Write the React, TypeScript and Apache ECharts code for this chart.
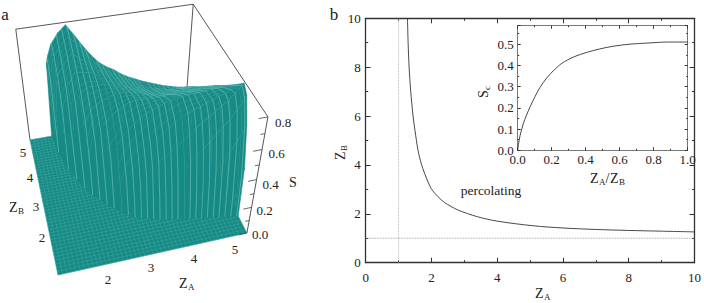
import React, { useEffect, useRef } from "react";
import * as echarts from "echarts";

// Panel b: percolation threshold
const thresholdZA = [1.27, 1.29, 1.32, 1.37, 1.44, 1.5, 1.59, 1.69, 1.79, 1.99, 2.2, 2.4, 2.8, 3.4, 4, 5.1, 6, 7, 8, 9, 10];
const thresholdZB = [10, 9, 8, 7, 6, 5.4, 4.61, 4.05, 3.66, 3.04, 2.7, 2.46, 2.16, 1.88, 1.7, 1.51, 1.42, 1.36, 1.32, 1.29, 1.26];
// Inset
const ratio = [0, 0.005, 0.014, 0.033, 0.05, 0.073, 0.1, 0.13, 0.17, 0.21, 0.26, 0.33, 0.41, 0.48, 0.56, 0.66, 0.76, 0.88, 1];
const sc = [0, 0.03, 0.07, 0.125, 0.162, 0.205, 0.25, 0.295, 0.34, 0.375, 0.41, 0.44, 0.462, 0.477, 0.49, 0.5, 0.505, 0.51, 0.51];

// Panel a: surface S(ZA, ZB)
const zaNodes = [1.6, 1.65, 1.7, 1.8, 2.0, 2.2, 2.4, 2.6, 2.8, 3.0, 3.2, 3.4, 3.6, 3.8, 4.0, 4.2, 4.4, 4.6, 4.8, 5.0, 5.2, 5.4, 5.5];
const zbBase = [5.5, 5.0, 4.7, 4.2, 3.6, 3.15, 2.85, 2.6, 2.38, 2.18, 2.08, 2.0, 1.93, 1.86, 1.82, 1.78, 1.74, 1.71, 1.67, 1.63, 1.59, 1.55, 1.53];
const zbNodes = [1.6, 1.8, 2.0, 2.2, 2.4, 2.8, 3.2, 3.6, 4.0, 4.4, 4.8, 5.2, 5.5];
const _ = null;
const surfaceS = [
  [_, _, _, _, _, _, _, _, _, _, _, _, _],
  [_, _, _, _, _, _, _, _, _, _, _, 0.4, 0.55],
  [_, _, _, _, _, _, _, _, _, _, 0.3, 0.52, 0.6],
  [_, _, _, _, _, _, _, _, _, 0.38, 0.56, 0.63, 0.67],
  [_, _, _, _, _, _, _, _, 0.42, 0.56, 0.64, 0.7, 0.74],
  [_, _, _, _, _, _, 0.1, 0.42, 0.56, 0.64, 0.7, 0.75, 0.784],
  [_, _, _, _, _, _, 0.4, 0.52, 0.6, 0.63, 0.66, 0.7, 0.71],
  [_, _, _, _, _, 0.28, 0.48, 0.56, 0.6, 0.62, 0.62, 0.63, 0.63],
  [_, _, _, _, 0.08, 0.4, 0.54, 0.58, 0.6, 0.58, 0.57, 0.56, 0.56],
  [_, _, _, 0.05, 0.26, 0.48, 0.57, 0.6, 0.58, 0.55, 0.53, 0.51, 0.5],
  [_, _, _, 0.2, 0.36, 0.53, 0.6, 0.6, 0.56, 0.53, 0.5, 0.47, 0.46],
  [_, _, _, 0.3, 0.42, 0.57, 0.61, 0.58, 0.54, 0.5, 0.47, 0.44, 0.43],
  [_, _, 0.12, 0.36, 0.47, 0.6, 0.6, 0.57, 0.52, 0.47, 0.44, 0.41, 0.39],
  [_, _, 0.2, 0.4, 0.52, 0.62, 0.6, 0.55, 0.5, 0.45, 0.41, 0.38, 0.36],
  [_, _, 0.26, 0.44, 0.56, 0.64, 0.6, 0.54, 0.48, 0.43, 0.38, 0.35, 0.335],
  [_, 0.05, 0.32, 0.48, 0.6, 0.65, 0.6, 0.53, 0.47, 0.41, 0.36, 0.32, 0.31],
  [_, 0.12, 0.38, 0.54, 0.63, 0.66, 0.6, 0.53, 0.46, 0.4, 0.35, 0.3, 0.29],
  [_, 0.2, 0.44, 0.58, 0.65, 0.66, 0.6, 0.53, 0.46, 0.39, 0.34, 0.29, 0.27],
  [_, 0.28, 0.5, 0.62, 0.67, 0.66, 0.6, 0.53, 0.46, 0.39, 0.33, 0.27, 0.25],
  [_, 0.36, 0.56, 0.66, 0.69, 0.67, 0.6, 0.53, 0.46, 0.39, 0.33, 0.27, 0.235],
  [0.03, 0.44, 0.62, 0.7, 0.71, 0.67, 0.6, 0.53, 0.46, 0.39, 0.33, 0.26, 0.22],
  [0.18, 0.54, 0.7, 0.76, 0.73, 0.67, 0.6, 0.53, 0.46, 0.39, 0.33, 0.26, 0.21],
  [0.35, 0.6, 0.75, 0.79, 0.75, 0.677, 0.606, 0.539, 0.468, 0.397, 0.326, 0.258, 0.207],
];
const zMin = 1;
const zMax = 5.5;
const sMax = 0.8;
const sTicks = [0, 0.1, 0.2, 0.3, 0.4, 0.5, 0.6, 0.7, 0.8];

const TEAL = "#178a85";
const LIGHT = "#52b3ac";
const FAINT = "rgba(90,185,178,0.4)";
const FLOORLINE = "rgba(90,185,178,0.55)";
const FRAME = "#444";
const INK = "#222";
const SERIF = "Liberation Serif";

// Perspective projection of the box (three vanishing points)
type P3 = [number, number, number];
function project([za, zb, s]: P3): [number, number] {
  const u = (za - zMin) / (zMax - zMin);
  const v = (zb - zMin) / (zMax - zMin);
  const w = s / sMax;
  const A = 0.0653 * u;
  const B = 0.2435 * v;
  const C = -0.159 * w;
  const d = 1 + A + B + C;
  return [
    (58 + A * 3140 + B * -85 + C * 127) / d,
    (275 + A * -410 + B * -415 + C * 895) / d,
  ];
}

type Shape = { pts: P3[]; kind: "facet" | "floor" | "mesh" | "frame" | "tick" | "rib" | "arc" };

const mix = (p: P3, q: P3, t: number): P3 => [
  p[0] + (q[0] - p[0]) * t,
  p[1] + (q[1] - p[1]) * t,
  p[2] + (q[2] - p[2]) * t,
];

function buildSurface(): Shape[] {
  const out: Shape[] = [];
  const nodeAt = (i: number, j: number): P3 => [zaNodes[i], zbNodes[j], surfaceS[i][j] as number];
  const baseAt = (i: number): P3 => [zaNodes[i], zbBase[i], 0];
  const first = (i: number) => {
    const k = surfaceS[i].findIndex((x) => x !== null);
    return k < 0 ? zbNodes.length : k;
  };
  const ribStep = 0.14;
  for (let i = zaNodes.length - 2; i >= 0; i--) {
    const f0 = first(i);
    const f1 = first(i + 1);
    const jc = Math.min(Math.max(f0, f1), zbNodes.length - 1);
    const a0 = zaNodes[i];
    const a1 = zaNodes[i + 1];
    for (let j = zbNodes.length - 2; j >= jc; j--) {
      const p00 = nodeAt(i, j);
      const p10 = nodeAt(i + 1, j);
      const p11 = nodeAt(i + 1, j + 1);
      const p01 = nodeAt(i, j + 1);
      out.push({ kind: "facet", pts: [p00, p10, p11, p01] });
      const n = Math.max(1, Math.round((zbNodes[j + 1] - zbNodes[j]) / 0.14));
      for (let k = 1; k <= n; k++) {
        const t = k / n;
        out.push({ kind: "arc", pts: [mix(p00, p01, t), mix(p10, p11, t)] });
      }
    }
    const skirt: P3[] = [baseAt(i)];
    for (let j = f0; j <= jc; j++) skirt.push(nodeAt(i, j));
    for (let j = jc; j >= f1; j--) skirt.push(nodeAt(i + 1, j));
    skirt.push(baseAt(i + 1));
    out.push({ kind: "facet", pts: skirt });
    if (jc < zbNodes.length && f0 < zbNodes.length) {
      for (let m = Math.ceil(a0 / ribStep); m * ribStep < a1; m++) {
        const t = (m * ribStep - a0) / (a1 - a0);
        const pts: P3[] = [mix(baseAt(i), baseAt(i + 1), t)];
        for (let j = jc; j < zbNodes.length; j++) pts.push(mix(nodeAt(i, j), nodeAt(i + 1, j), t));
        out.push({ kind: "rib", pts });
      }
    }
  }
  return out;
}

function buildBack(): Shape[] {
  const e = (a: P3, b: P3): Shape => ({ kind: "frame", pts: [a, b] });
  const shapes: Shape[] = [
    e([zMin, zMax, 0], [zMin, zMax, sMax]),
    e([zMin, zMax, sMax], [zMax, zMax, sMax]),
    e([zMax, zMax, sMax], [zMax, zMin, sMax]),
    e([zMax, zMax, 0], [zMax, zMax, sMax]),
    e([zMax, zMin, 0], [zMax, zMin, sMax]),
  ];
  shapes.push({
    kind: "floor",
    pts: [[zMin, zMin, 0], [zMax, zMin, 0], [zMax, zMax, 0], [zMin, zMax, 0]],
  });
  for (let k = 0; k <= 45; k++) {
    const t = zMin + k / 10;
    shapes.push({ kind: "mesh", pts: [[t, zMin, 0], [t, zMax, 0]] });
    shapes.push({ kind: "mesh", pts: [[zMin, t, 0], [zMax, t, 0]] });
  }
  return shapes;
}

function buildTicks(): Shape[] {
  return sTicks.map((s, i) => ({
    kind: "tick" as const,
    pts: [[zMax, zMin, s], [zMax - (i % 2 === 0 ? 0.2 : 0.1), zMin, s]] as P3[],
  }));
}

const shapes: Shape[] = [...buildBack(), ...buildSurface(), ...buildTicks()];

function renderShape(params: any, api: any) {
  const s = shapes[params.dataIndex];
  const points = s.pts.map((p) => api.coord(project(p)));
  if (s.kind === "facet" || s.kind === "floor") {
    return { type: "polygon", silent: true, shape: { points }, style: { fill: TEAL, stroke: TEAL, lineWidth: 0.5 } };
  }
  if (s.kind === "rib") {
    return { type: "polyline", silent: true, shape: { points }, style: { fill: "none", stroke: LIGHT, lineWidth: 0.9 } };
  }
  const color = s.kind === "mesh" ? FLOORLINE : s.kind === "arc" ? FAINT : FRAME;
  const width = s.kind === "mesh" ? 0.5 : s.kind === "arc" ? 0.5 : s.kind === "frame" ? 0.9 : 0.8;
  return {
    type: "line",
    silent: true,
    shape: { x1: points[0][0], y1: points[0][1], x2: points[1][0], y2: points[1][1] },
    style: { stroke: color, lineWidth: width, fill: "none" },
  };
}

function txt(text: string, x: number, y: number, size: number, align = "center") {
  return {
    type: "text",
    x,
    y,
    silent: true,
    style: { text, fontFamily: SERIF, fontSize: size, fill: INK, textAlign: align, textVerticalAlign: "middle" },
  };
}

// Letter with subscript: pieces laid out from a group's origin
function subText(pieces: [string, number, boolean][], x: number, y: number, rotation = 0) {
  return {
    type: "group",
    x,
    y,
    rotation,
    silent: true,
    children: pieces.map(([t, dx, isSub]) => ({
      type: "text",
      x: dx,
      y: isSub ? 3.5 : 0,
      silent: true,
      style: {
        text: t,
        fontFamily: SERIF,
        fontSize: isSub ? 9 : 14,
        fill: INK,
        textAlign: "left",
        textVerticalAlign: "middle",
      },
    })),
  };
}

const axisBase = (color: string, width: number, size: number) => ({
  type: "value" as const,
  splitLine: { show: false },
  axisLine: { show: true, onZero: false, lineStyle: { color, width } },
  axisTick: { show: true, inside: true, length: size, lineStyle: { color: "#333", width: 1 } },
  minorTick: { show: true, length: size / 2, lineStyle: { color: "#333", width: 1 } },
});
const labelStyle = { fontFamily: SERIF, fontSize: 13, color: INK };

export default function App() {
  const ref = useRef<HTMLDivElement>(null);
  useEffect(() => {
    document.body.style.margin = "0";
    const chart = echarts.init(ref.current!, undefined, { renderer: "svg" });
    const bBase = axisBase("#333", 1.3, 5);
    const iBase = axisBase("#777", 1, 3);
    chart.setOption({
      animation: false,
      backgroundColor: "#fff",
      grid: [
        { left: 0, top: 0, width: 704, height: 303, show: false },
        { left: 365.7, right: 7.3, top: 18.3, bottom: 40.3, show: false },
        { left: 517.7, right: 16.3, top: 25.7, bottom: 152.7, show: false, z: 5 },
      ],
      xAxis: [
        { type: "value", gridIndex: 0, min: 0, max: 704, show: false },
        {
          ...bBase, gridIndex: 1, min: 0, max: 10, interval: 2, position: "bottom",
          minorTick: { ...bBase.minorTick, splitNumber: 2 },
          axisLabel: { ...labelStyle, margin: 8 },
        },
        {
          ...bBase, gridIndex: 1, min: 0, max: 10, interval: 2, position: "top",
          minorTick: { ...bBase.minorTick, splitNumber: 2 },
          axisLabel: { show: false },
        },
        {
          ...iBase, gridIndex: 2, min: 0, max: 1, interval: 0.2, position: "bottom",
          minorTick: { ...iBase.minorTick, splitNumber: 2 },
          axisLabel: { ...labelStyle, margin: 3, formatter: (v: number) => v.toFixed(1) },
        },
        {
          ...iBase, gridIndex: 2, min: 0, max: 1, interval: 0.2, position: "top",
          minorTick: { ...iBase.minorTick, splitNumber: 2 },
          axisLabel: { show: false },
        },
      ],
      yAxis: [
        { type: "value", gridIndex: 0, min: 0, max: 303, inverse: true, show: false },
        {
          ...bBase, gridIndex: 1, min: 0, max: 10, interval: 2, position: "left",
          minorTick: { ...bBase.minorTick, splitNumber: 2 },
          axisLabel: { ...labelStyle, margin: 5 },
        },
        {
          ...bBase, gridIndex: 1, min: 0, max: 10, interval: 2, position: "right",
          minorTick: { ...bBase.minorTick, splitNumber: 2 },
          axisLabel: { show: false },
        },
        {
          ...iBase, gridIndex: 2, min: 0, max: 0.587, interval: 0.1, position: "left",
          minorTick: { ...iBase.minorTick, splitNumber: 2 },
          axisLabel: { ...labelStyle, margin: 4, showMaxLabel: false, formatter: (v: number) => v.toFixed(1) },
        },
        {
          ...iBase, gridIndex: 2, min: 0, max: 0.587, interval: 0.1, position: "right",
          minorTick: { ...iBase.minorTick, splitNumber: 2 },
          axisLabel: { show: false },
        },
      ],
      series: [
        {
          type: "custom",
          xAxisIndex: 0,
          yAxisIndex: 0,
          clip: false,
          silent: true,
          renderItem: renderShape,
          data: shapes.map((_s, i) => [i]),
          encode: { x: [], y: [] },
        },
        {
          type: "line", xAxisIndex: 1, yAxisIndex: 1, symbol: "none", silent: true,
          lineStyle: { color: "#aaa", width: 0.9, type: "dotted" },
          data: [[1, 0], [1, 10]],
        },
        {
          type: "line", xAxisIndex: 1, yAxisIndex: 1, symbol: "none", silent: true,
          lineStyle: { color: "#888", width: 0.8, type: "dotted" },
          data: [[0, 1], [10, 1]],
        },
        {
          type: "line", xAxisIndex: 1, yAxisIndex: 1, symbol: "none", silent: true, smooth: 0.3,
          lineStyle: { color: "#333", width: 0.9 },
          data: thresholdZA.map((x, i) => [x, thresholdZB[i]]),
        },
        {
          type: "line", xAxisIndex: 3, yAxisIndex: 3, symbol: "none", silent: true, smooth: 0.3, z: 6,
          lineStyle: { color: "#333", width: 0.9 },
          data: ratio.map((x, i) => [x, sc[i]]),
        },
      ],
      graphic: {
        elements: [
          txt("a", 5, 14, 17),
          txt("b", 334, 14, 17),
          txt("2", 108, 279, 13),
          txt("3", 151, 267, 13),
          txt("4", 194, 258, 13),
          txt("5", 235, 249, 13),
          txt("2", 42, 237, 13),
          txt("3", 36, 206, 13),
          txt("4", 30, 177, 13),
          txt("5", 23, 152, 13),
          txt("0.0", 260, 234, 13),
          txt("0.2", 264.5, 210, 13),
          txt("0.4", 270.5, 184, 13),
          txt("0.6", 276.5, 153, 13),
          txt("0.8", 283, 122, 13),
          txt("S", 293, 182, 14),
          subText([["Z", 0, false], ["A", 9, true]], 179, 283),
          subText([["Z", 0, false], ["B", 9, true]], 9, 207),
          subText([["Z", 0, false], ["A", 9, true]], 535, 293),
          subText([["Z", 0, false], ["B", 9, true]], 340, 160, Math.PI / 2),
          subText([["S", 0, false], ["c", 8, true]], 483, 98, Math.PI / 2),
          subText(
            [["Z", 0, false], ["A", 9, true], ["/", 15.5, false], ["Z", 20, false], ["B", 29, true]],
            590,
            178,
          ),
          txt("percolating", 491, 190, 13.5),
        ],
      },
    });
    return () => chart.dispose();
  }, []);
  return <div ref={ref} style={{ width: 704, height: 303 }} />;
}
